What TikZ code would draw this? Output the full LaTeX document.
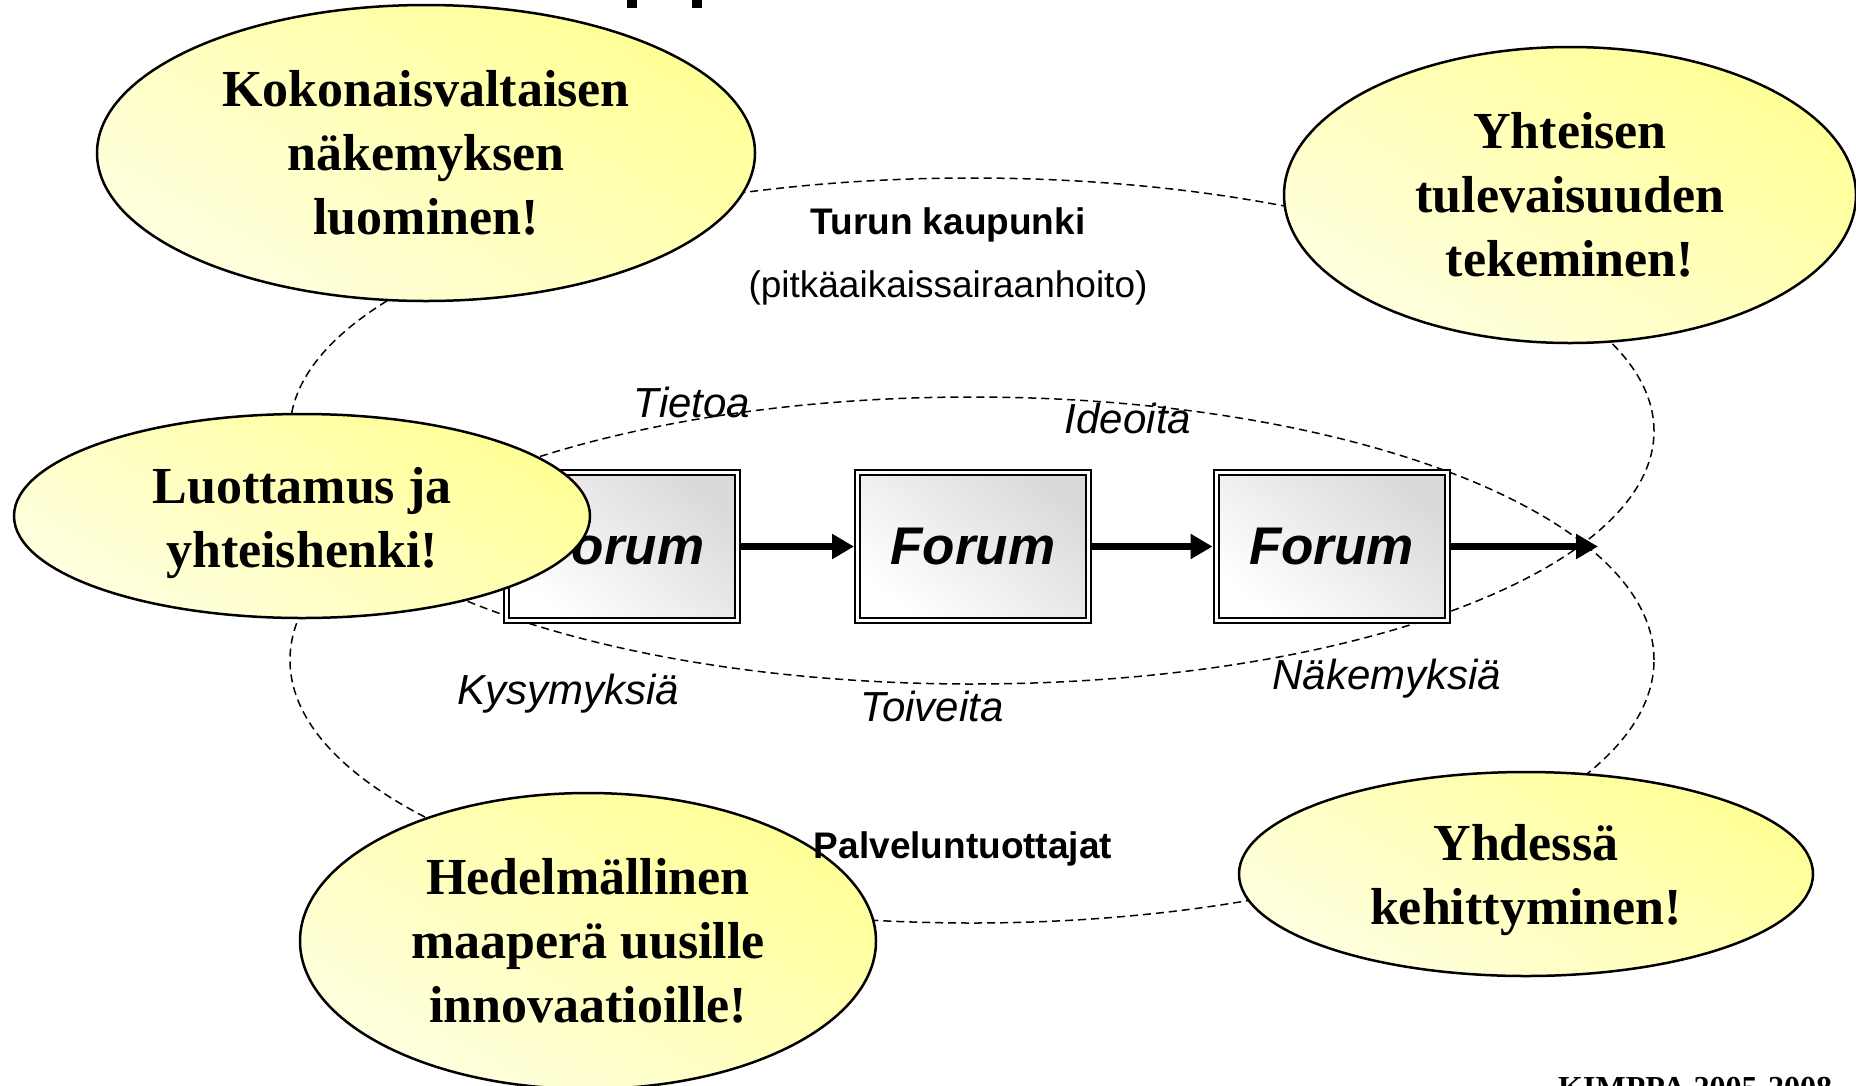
\documentclass[tikz,border=0pt]{standalone}
\usepackage{fontspec}
\setmainfont{Liberation Serif}
\setsansfont{Liberation Sans}
\usetikzlibrary{shapes.geometric,arrows.meta}
\definecolor{ellA}{RGB}{255,255,150}
\definecolor{ellB}{RGB}{255,255,224}
\definecolor{boxA}{RGB}{218,218,218}
\newcommand\ellfont{\rmfamily\bfseries\fontsize{52pt}{64pt}\selectfont}
\newcommand\forumfont{\sffamily\bfseries\itshape\fontsize{53pt}{60pt}\selectfont}
\newcommand\itlbl{\sffamily\itshape\fontsize{42pt}{48pt}\selectfont}
\newcommand\bdlbl{\sffamily\bfseries\fontsize{37pt}{44pt}\selectfont}
\newcommand\rglbl{\sffamily\fontsize{37pt}{44pt}\selectfont}
\begin{document}
\begin{tikzpicture}[x=1pt,y=-1pt,
  ell/.style={ellipse, draw=black, line width=2.5pt, top color=ellA, bottom color=ellB, shading angle=-30, inner sep=0pt, align=center, font=\ellfont},
  elltext/.style={inner sep=0pt, align=center, font=\ellfont},
  forum/.style={rectangle, draw=black, double=white, double distance=3pt, line width=2pt, top color=boxA, bottom color=white, shading angle=-40, minimum width=231pt, minimum height=148pt, outer sep=3.5pt, font=\forumfont},
  dashring/.style={ellipse, draw=black, line width=1.5pt, dash pattern=on 8pt off 5pt, inner sep=0pt},
  flow/.style={line width=7pt, -{Triangle[length=22pt,width=24pt]}},
  itl/.style={font=\itlbl, anchor=base, inner sep=0pt},
  bdl/.style={font=\bdlbl, anchor=base, inner sep=0pt},
  rgl/.style={font=\rglbl, anchor=base, inner sep=0pt}]
\useasboundingbox (0,0) rectangle (1856,1085);
\fill[white] (0,0) rectangle (1856,1085);
% dashed rings
\node[dashring, minimum width=1364pt, minimum height=506pt] (ringB) at (972,431) {};
\node[dashring, minimum width=1364pt, minimum height=526pt] (ringA) at (972,660) {};
% forum boxes
\node[forum] (f1) at (622,546.5) {Forum};
\node[forum] (f2) at (973,546.5) {Forum};
\node[forum] (f3) at (1331.5,546.5) {Forum};
\coordinate (tip) at (1598,546.5);
\draw[flow] (f1) -- (f2);
\draw[flow] (f2) -- (f3);
\draw[flow] (f3) -- (tip);
% yellow ellipses
\node[ell, minimum width=658pt, minimum height=296pt] (e1) at (426,153) {Kokonaisvaltaisen\\näkemyksen\\luominen!};
\node[ell, minimum width=572pt, minimum height=296pt] (e2) at (1570,195) {Yhteisen\\tulevaisuuden\\tekeminen!};
\node[ell, minimum width=576pt, minimum height=204pt] (e3) at (302,516) {};
\node[elltext] (e3t) at ([yshift=-7pt]e3.center) {Luottamus ja\\yhteishenki!};
\node[ell, minimum width=576pt, minimum height=296pt] (e4) at (588,941) {Hedelmällinen\\maaperä uusille\\innovaatioille!};
\node[ell, minimum width=574pt, minimum height=204pt] (e5) at (1526,874) {};
\node[elltext] (e5t) at ([yshift=-6pt]e5.center) {Yhdessä\\kehittyminen!};
% labels
\node[bdl] (turku) at (948,234) {Turun kaupunki};
\node[rgl] (pitka) at (948,297) {(pitkäaikaissairaanhoito)};
\node[bdl] (palv) at (963,858) {Palveluntuottajat};
\node[itl] (tietoa) at (692,417) {Tietoa};
\node[itl] (ideoita) at (1128,433) {Ideoita};
\node[itl] (kysy) at (568,704) {Kysymyksiä};
\node[itl] (toive) at (932,721) {Toiveita};
\node[itl] (nake) at (1387,689) {Näkemyksiä};
\node[anchor=base west, inner sep=0pt, font=\rmfamily\bfseries\fontsize{32pt}{38pt}\selectfont] (kimppa) at (1558,1098) {KIMPPA 2005-2008};
% fragments of a cut-off title
\fill[black] (627,0) rectangle (637,8);
\fill[black] (692,0) rectangle (702,8);
\end{tikzpicture}
\end{document}
